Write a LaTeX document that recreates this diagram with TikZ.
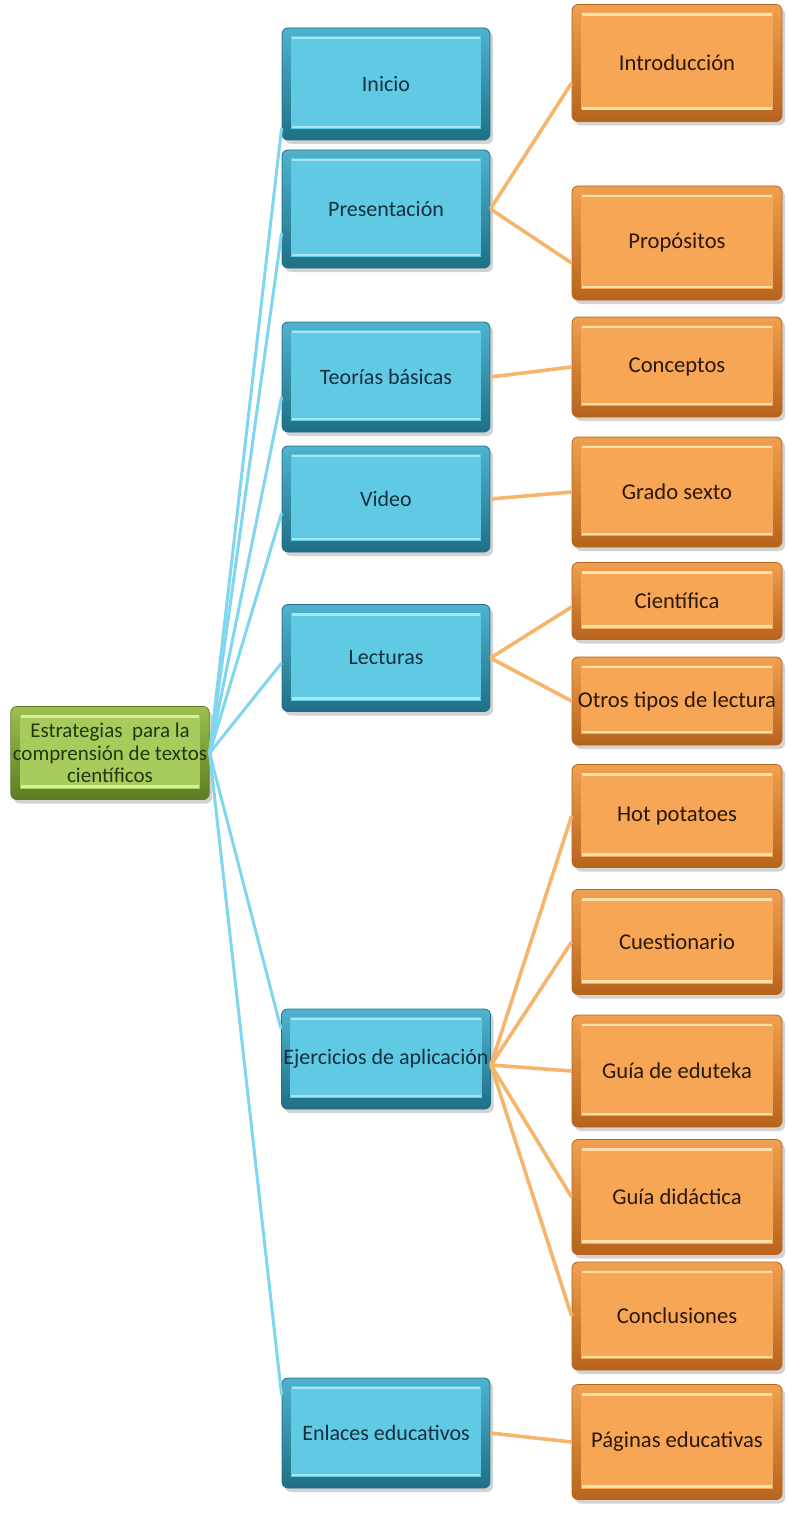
\documentclass[tikz,border=0pt]{standalone}
\usepackage{fontspec}
\setmainfont{Carlito}
\usepackage{xcolor}
\usetikzlibrary{positioning,shadows}

\definecolor{bluFace}{HTML}{60CAE5}
\definecolor{bluTop}{HTML}{4FB3CF}
\definecolor{bluBot}{HTML}{1F6F86}
\definecolor{bluHi}{HTML}{A8E6F5}
\definecolor{bluTxt}{HTML}{14303F}
\definecolor{oraFace}{HTML}{F7A656}
\definecolor{oraTop}{HTML}{F0A050}
\definecolor{oraBot}{HTML}{B8631C}
\definecolor{oraHi}{HTML}{FFE0A8}
\definecolor{oraTxt}{HTML}{2A1808}
\definecolor{grnFace}{HTML}{A8CC5C}
\definecolor{grnTop}{HTML}{9CC050}
\definecolor{grnBot}{HTML}{5E7C22}
\definecolor{grnHi}{HTML}{D6EDA0}
\definecolor{grnTxt}{HTML}{263410}
\definecolor{bluLine}{HTML}{80D6EE}
\definecolor{oraLine}{HTML}{F6B56C}

\tikzset{
  bevel/.style n args={4}{rounded corners=3pt, top color=#2, bottom color=#3, draw=#3,
    drop shadow={shadow xshift=1.5pt, shadow yshift=-2pt, opacity=0.35},
    path picture={
      \fill[#1, sharp corners] ([shift={(4.5pt,-4pt)}]path picture bounding box.north west)
        rectangle ([shift={(-4.5pt,5.5pt)}]path picture bounding box.south east);
      \draw[#4, line width=1.2pt] ([shift={(5pt,-5pt)}]path picture bounding box.north west)
        -- ([shift={(-5pt,-5pt)}]path picture bounding box.north east);
      \draw[#4, line width=1.2pt] ([shift={(5pt,6.5pt)}]path picture bounding box.south west)
        -- ([shift={(-5pt,6.5pt)}]path picture bounding box.south east);
    }},
}

\begin{document}
\begin{tikzpicture}[
  x=0.5pt, y=-0.5pt,
  rootbox/.style={bevel={grnFace}{grnTop}{grnBot}{grnHi}, minimum width=98pt,
                  align=center, font=\fontsize{10.5}{11.2}\selectfont, text=grnTxt, inner sep=1pt},
  bluebox/.style={bevel={bluFace}{bluTop}{bluBot}{bluHi}, minimum width=104pt,
                  font=\fontsize{11}{13}\selectfont, text=bluTxt, inner sep=1pt},
  orabox/.style ={bevel={oraFace}{oraTop}{oraBot}{oraHi}, minimum width=105pt,
                  font=\fontsize{11.3}{13}\selectfont, text=oraTxt, inner sep=1pt},
  bline/.style={draw=bluLine, line width=1.5pt},
  oline/.style={draw=oraLine, line width=1.8pt}
]
\useasboundingbox (0,0) rectangle (787,1514);

% root
\node[rootbox, minimum height=46.5pt] (root) at (110,753)
     {Estrategias\ \ para la\\comprensión de textos\\científicos};

% first level
\node[bluebox, minimum height=56pt]   (inicio)   at (386,84)   {Inicio};
\node[bluebox, minimum height=59pt]   (present)  at (386,209)  {Presentación};
\node[bluebox, minimum height=55pt]   (teorias)  at (386,377)  {Teorías básicas};
\node[bluebox, minimum height=53pt]   (video)    at (386,499)  {Video};
\node[bluebox, minimum height=53.5pt] (lecturas) at (386,658)  {Lecturas};
\node[bluebox, minimum height=50pt]   (ejerc)    at (386,1059) {Ejercicios de aplicación};
\node[bluebox, minimum height=55pt]   (enlaces)  at (386,1433) {Enlaces educativos};

% second level
\node[orabox, minimum height=58.5pt] (intro)   at (677,63)   {Introducción};
\node[orabox, minimum height=57pt]   (propos)  at (677,243)  {Propósitos};
\node[orabox, minimum height=50pt]   (concep)  at (677,367)  {Conceptos};
\node[orabox, minimum height=55pt]   (grado)   at (677,492)  {Grado sexto};
\node[orabox, minimum height=38.5pt] (cientif) at (677,601)  {Científica};
\node[orabox, minimum height=44pt]   (otros)   at (677,701)  {Otros tipos de lectura};
\node[orabox, minimum height=51.5pt] (hotpot)  at (677,816)  {Hot potatoes};
\node[orabox, minimum height=52.5pt] (cuest)   at (677,942)  {Cuestionario};
\node[orabox, minimum height=56pt]   (edutek)  at (677,1071) {Guía de eduteka};
\node[orabox, minimum height=57.5pt] (didact)  at (677,1197) {Guía didáctica};
\node[orabox, minimum height=54pt]   (conclu)  at (677,1316) {Conclusiones};
\node[orabox, minimum height=57.5pt] (paginas) at (677,1442) {Páginas educativas};

% root to first level
\draw[bline] (root.east) -- ([yshift=-22pt]inicio.west);
\draw[bline] (root.east) -- ([yshift=-12pt]present.west);
\draw[bline] (root.east) -- ([yshift=-10pt]teorias.west);
\draw[bline] (root.east) -- ([yshift=-7pt]video.west);
\draw[bline] (root.east) -- ([yshift=-2.5pt]lecturas.west);
\draw[bline] (root.east) -- ([yshift=15pt]ejerc.west);
\draw[bline] (root.east) -- ([yshift=19pt]enlaces.west);

% first to second level
\draw[oline] (present.east) -- ([yshift=-10pt]intro.west);
\draw[oline] (present.east) -- ([yshift=-10pt]propos.west);
\draw[oline] (teorias.east) -- (concep.west);
\draw[oline] (video.east) -- (grado.west);
\draw[oline] (lecturas.east) -- ([yshift=-3pt]cientif.west);
\draw[oline] (lecturas.east) -- (otros.west);
\foreach \leaf in {hotpot,cuest,edutek,didact,conclu}
  \draw[oline] ([yshift=-3pt]ejerc.east) -- (\leaf.west);
\draw[oline] (enlaces.east) -- (paginas.west);
\end{tikzpicture}
\end{document}
